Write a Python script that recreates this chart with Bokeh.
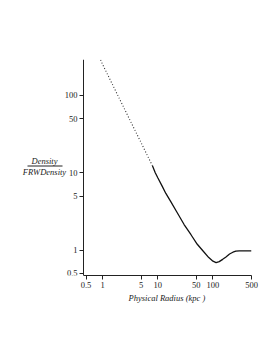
import math
from bokeh.plotting import figure
from bokeh.models import FixedTicker, Label, Arrow, Range1d, Title
from bokeh.embed import file_html
from bokeh.resources import INLINE

# data
radius_dotted = [0.92, 1.0, 1.5, 2.0, 3.0, 4.0, 5.0, 6.0, 7.0, 8.0]
density_dotted = [287, 250, 139, 91.5, 50.8, 33.5, 24.3, 18.6, 14.9, 12.3]
radius_solid = [8.0, 9.0, 10.0, 12.0, 14.0, 17.0, 22.0, 30.0, 40.0, 52.0, 65.0, 84.0,
                100.0, 114.0, 130.0, 150.0, 170.0, 200.0, 230.0, 260.0, 300.0, 400.0, 500.0]
density_solid = [12.3, 10.0, 8.6, 6.7, 5.4, 4.3, 3.13, 2.14, 1.58, 1.19, 0.99, 0.80,
                 0.72, 0.69, 0.71, 0.76, 0.81, 0.89, 0.94, 0.97, 0.98, 0.98, 0.98]
x_ticks = [0.5, 1, 5, 10, 50, 100, 500]
x_tick_labels = ["0.5", "1", "5", "10", "50", "100", "500"]
y_ticks = [0.5, 1, 5, 10, 50, 100]
y_tick_labels = ["0.5", "1", "5", "10", "50", "100"]

AX0, X1 = 0.45, 500          # axis extent along x
Y0, Y1 = 0.47, 290
W, H = 269, 350
AXL, FR, FT, FB = 83, 251, 59, 275   # axis position / frame edges (canvas px)
FL = 8                                # frame extended left to hold the y label

decade = (FR - AXL) / math.log10(X1 / AX0)
X0 = 10 ** (math.log10(AX0) - (AXL - FL) / decade)

p = figure(width=W, height=H, x_axis_type="log", y_axis_type="log",
           x_range=Range1d(X0, X1), y_range=Range1d(Y0, Y1),
           output_backend="svg", toolbar_location=None,
           min_border_left=FL, min_border_right=W - FR,
           min_border_top=FT, min_border_bottom=H - FB)
p.outline_line_color = None
p.xgrid.visible = False
p.ygrid.visible = False
p.background_fill_color = "white"

p.line(radius_dotted, density_dotted, line_color="#333333", line_width=1.1, line_dash="1 2")
p.line(radius_solid, density_solid, line_color="#111111", line_width=1.3)

FONT = "Liberation Serif"
for ax, ticks, labels in ((p.xaxis[0], x_ticks, x_tick_labels), (p.yaxis[0], y_ticks, y_tick_labels)):
    ax.ticker = FixedTicker(ticks=ticks, minor_ticks=[])
    ax.major_label_overrides = {float(t): l for t, l in zip(ticks, labels)}
    ax.axis_line_color = "#222222"
    ax.major_tick_line_color = "#222222"
    ax.minor_tick_line_color = None
    ax.major_tick_out = 4
    ax.major_tick_in = 0
    ax.major_label_text_font = FONT
    ax.major_label_text_font_size = "8.5px"
    ax.major_label_text_color = "#222222"
    ax.major_label_standoff = 2

p.xaxis.bounds = (AX0, X1)
p.yaxis.fixed_location = AX0

# x axis title, centred under the axis (not under the extended frame)
p.add_layout(Title(text="Physical  Radius (kpc )", align="left", offset=128 - FL,
                   text_font=FONT, text_font_style="italic", text_font_size="8.5px",
                   text_color="#222222", standoff=1), "below")

# y label as a fraction, placed in screen units relative to the frame
cx = 44 - FL
p.add_layout(Label(x=cx, y=FB - 160, x_units="screen", y_units="screen", text="Density",
                   text_align="center", text_baseline="middle", text_font=FONT,
                   text_font_style="italic", text_font_size="8.5px", text_color="#222222"))
p.add_layout(Label(x=cx, y=FB - 171, x_units="screen", y_units="screen", text="FRWDensity",
                   text_align="center", text_baseline="middle", text_font=FONT,
                   text_font_style="italic", text_font_size="8.5px", text_color="#222222"))
p.add_layout(Arrow(x_start=27 - FL, y_start=FB - 165.5, x_end=62 - FL, y_end=FB - 165.5,
                   start_units="screen", end_units="screen",
                   start=None, end=None, line_color="#222222", line_width=1))

open("out.html", "w").write(file_html(p, INLINE))
